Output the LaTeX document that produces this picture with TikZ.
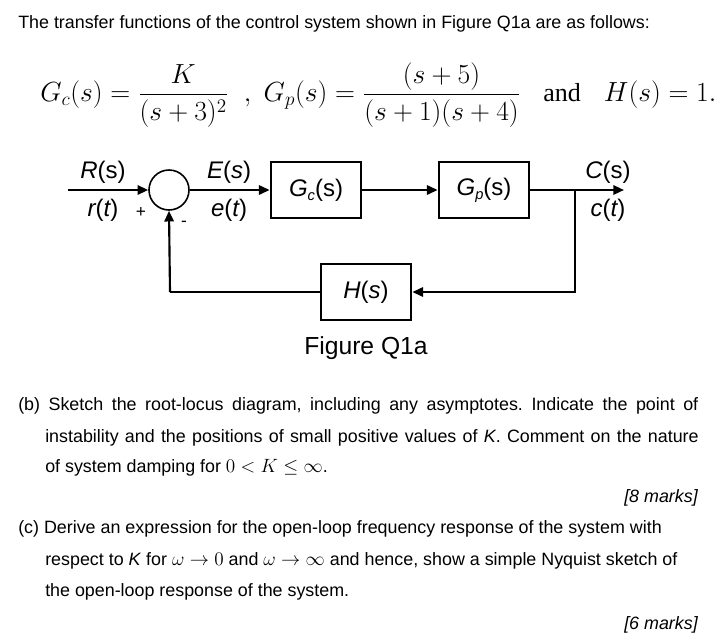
\documentclass[tikz,border=0pt]{standalone}
\usepackage{amsmath}
\usepackage{fontspec}
\setmainfont{Liberation Sans}
\newfontfamily\serifit{Liberation Serif}
\frenchspacing
\usetikzlibrary{arrows.meta,positioning}
\tikzset{
  blockbox/.style={draw,line width=1.6pt,minimum width=68pt,minimum height=42pt,font=\fontsize{18}{21}\selectfont},
  sumcirc/.style={draw,circle,line width=1.2pt,minimum size=30pt,inner sep=0pt},
  sig/.style={line width=1.6pt,-{Triangle[length=8pt,width=7pt]}},
  wire/.style={line width=1.6pt},
  lbl/.style={font=\fontsize{18}{21}\selectfont,inner sep=0pt},
  bodytext/.style={anchor=base west,inner sep=0pt,font=\fontsize{13.4}{16}\selectfont}
}
\begin{document}
\begin{tikzpicture}[x=0.75pt,y=-0.75pt]
\useasboundingbox (0,0) rectangle (720,640);
% header text
\node[bodytext] (intro) at (18,28) {The transfer functions of the control system shown in Figure Q1a are as follows:};
\node[anchor=west,inner sep=0pt,font=\fontsize{19.5}{23}\selectfont] (tf) at (40,95)
  {$G_c(s)=\dfrac{K}{(s+3)^2}\;\;,\;G_p(s)=\dfrac{(s+5)}{(s+1)(s+4)}\;\;\;\text{\serifit and}\;\;\;H(s)=1.$};
% block diagram
\coordinate (in) at (68,190);
\node[sumcirc] (sum) at (169,190) {};
\node[blockbox] (gc) at (316,190) {\textit{G\fontsize{11}{12}\selectfont\raisebox{-3pt}{c}}(s)};
\node[blockbox] (gp) at (484,190) {\textit{G\fontsize{11}{12}\selectfont\raisebox{-3pt}{p}}(s)};
\coordinate (branch) at (575,190);
\coordinate (out) at (624,190);
\node[blockbox] (hs) at (366,292) {\itshape H\upshape(\itshape s\upshape)};
\coordinate (fbl) at (170,292);
\draw[sig] (in) -- (sum);
\draw[sig] (sum) -- (gc);
\draw[sig] (gc) -- (gp);
\draw[sig] (gp.east) -- (out);
\draw[sig] (branch) |- (hs.east);
\draw[wire] (hs.west) -| (fbl);
\draw[sig] (fbl) -- (sum.south);
% signal labels
\node[lbl] (rs) at (103,172) {\itshape R\upshape(s)};
\node[lbl] (rt) at (103,210) {\itshape r\upshape(\itshape t\upshape)};
\node[lbl,font=\fontsize{13}{15}\selectfont] (plus) at (141,212) {+};
\node[lbl,font=\fontsize{13}{15}\selectfont] (minus) at (184,224) {-};
\node[lbl] (es) at (229,172) {\itshape E\upshape(\itshape s\upshape)};
\node[lbl] (et) at (229,210) {\itshape e\upshape(\itshape t\upshape)};
\node[lbl] (cs) at (608,172) {\itshape C\upshape(s)};
\node[lbl] (ct) at (608,210) {\itshape c\upshape(\itshape t\upshape)};
\node[lbl,font=\fontsize{18.5}{22}\selectfont] (cap) at (366,348) {Figure Q1a};
% questions
\node[bodytext] (b1) at (18,410) {\makebox[510pt][s]{(b) Sketch the root-locus diagram, including any asymptotes. Indicate the point of}};
\node[bodytext] (b2) at (45,442) {\makebox[490pt][s]{instability and the positions of small positive values of \textit{K}. Comment on the nature}};
\node[bodytext] (b3) at (45,472) {of system damping for $0<K\leq\infty$.};
\node[bodytext,anchor=base east] (m8) at (698,502) {\itshape [8 marks]};
\node[bodytext] (c1) at (18,533) {(c) Derive an expression for the open-loop frequency response of the system with};
\node[bodytext] (c2) at (45,565) {respect to \textit{K} for $\omega\rightarrow0$ and $\omega\rightarrow\infty$ and hence, show a simple Nyquist sketch of};
\node[bodytext] (c3) at (45,596) {the open-loop response of the system.};
\node[bodytext,anchor=base east] (m6) at (698,629) {\itshape [6 marks]};
\end{tikzpicture}
\end{document}
